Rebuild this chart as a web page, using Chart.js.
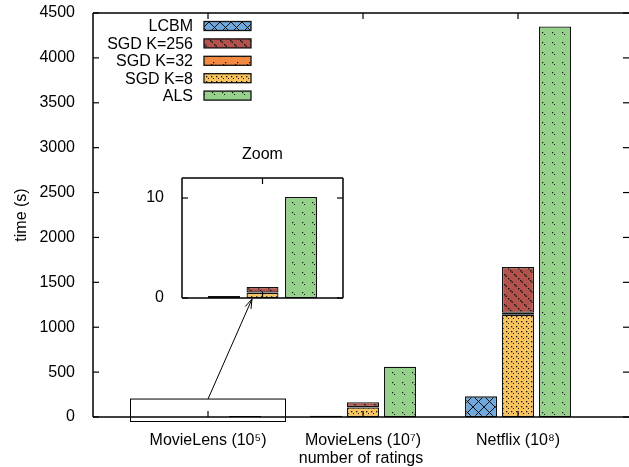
<!DOCTYPE html>
<html>
<head>
<meta charset="utf-8">
<script src="https://cdn.jsdelivr.net/npm/chart.js@4"></script>
<style>
  html, body { margin: 0; padding: 0; background: #fff; overflow: hidden; }
  #wrap { position: relative; width: 629px; height: 467px; }
  #main { position: absolute; left: 0; top: 0; }
  #zoom { position: absolute; left: 140px; top: 140px; }
</style>
</head>
<body>
<div id="wrap">
  <canvas id="main" width="629" height="467"></canvas>
  <canvas id="zoom" width="210" height="172"></canvas>
</div>
<script>
/* data (seconds) */
const categories = ['MovieLens (10⁵)', 'MovieLens (10⁷)', 'Netflix (10⁸)'];
const lcbm    = [0.2, 15, 230];
const sgdK8   = [0.5, 105, 1140];
const sgdK32  = [0.55, 112, 1160];
const sgdK256 = [1.1, 165, 1670];
const als     = [10.1, 560, 4350];

const FONT = { family: '"Liberation Sans", Arial, Helvetica, sans-serif', size: 16 };

/* fill patterns like the gnuplot ones */
function pattern(bg, size, draw) {
  const c = document.createElement('canvas');
  c.width = c.height = size;
  const g = c.getContext('2d');
  g.fillStyle = bg;
  g.fillRect(0, 0, size, size);
  g.strokeStyle = '#111';
  g.fillStyle = '#111';
  g.lineWidth = 1;
  draw(g, size);
  return g.createPattern(c, 'repeat');
}

const fills = {
  lcbm: pattern('#6fa8dc', 11, (g, s) => {
    g.beginPath();
    g.moveTo(0, 0); g.lineTo(s, s);
    g.moveTo(0, s); g.lineTo(s, 0);
    g.stroke();
  }),
  k256: pattern('#b4534b', 10, (g) => {
    g.fillRect(0, 0, 1.4, 1.4); g.fillRect(1.5, 1.5, 1.4, 1.4);
    g.fillRect(4, 4, 1.4, 1.4); g.fillRect(5.5, 5.5, 1.4, 1.4); g.fillRect(8, 8, 1.4, 1.4);
  }),
  k32: pattern('#f28a43', 12, (g) => {
    g.fillRect(9, 2, 1.2, 1.2); g.fillRect(7, 4, 1.2, 1.2); g.fillRect(3, 8, 1.2, 1.2);
  }),
  k8: pattern('#f9c45c', 5, (g) => {
    g.fillRect(1, 1, 1.3, 1.3); g.fillRect(3, 3, 1, 1);
  }),
  als: pattern('#95d18a', 10, (g) => {
    g.fillRect(2, 2, 1.2, 1.2); g.fillRect(4, 4, 1, 1);
  })
};

function makeDatasets(idx) {
  const pick = arr => idx.map(i => ({ x: i, y: arr[i] }));
  const diff = (a, b) => idx.map(i => ({ x: i, y: a[i] - b[i] }));
  const common = { borderColor: '#111', borderWidth: 1.3, borderSkipped: false };
  return [
    { label: 'LCBM', data: pick(lcbm), stack: 'lcbm', backgroundColor: fills.lcbm, ...common },
    { label: 'SGD K=8', data: pick(sgdK8), stack: 'sgd', backgroundColor: fills.k8, ...common },
    { label: 'SGD K=32', data: diff(sgdK32, sgdK8), stack: 'sgd', backgroundColor: fills.k32, ...common },
    { label: 'SGD K=256', data: diff(sgdK256, sgdK32), stack: 'sgd', backgroundColor: fills.k256, ...common },
    { label: 'ALS', data: pick(als), stack: 'als', backgroundColor: fills.als, ...common }
  ];
}

function line(ctx, x1, y1, x2, y2) {
  ctx.beginPath(); ctx.moveTo(x1, y1); ctx.lineTo(x2, y2); ctx.stroke();
}

// keep label overhang from shrinking the plot area
function noPad(s) {
  s.paddingTop = 0; s.paddingBottom = 0; s.paddingLeft = 0; s.paddingRight = 0;
}

/* frame + inward ticks, gnuplot style */
function drawFrame(chart, drawRight) {
  const { ctx, chartArea: a, scales } = chart;
  ctx.save();
  ctx.strokeStyle = '#000';
  ctx.lineWidth = 1.5;
  line(ctx, a.left, a.top, a.right, a.top);
  line(ctx, a.left, a.bottom, a.right, a.bottom);
  line(ctx, a.left, a.top, a.left, a.bottom);
  if (drawRight) line(ctx, a.right, a.top, a.right, a.bottom);
  ctx.lineWidth = 1.2;
  scales.y.ticks.forEach(t => {
    const y = scales.y.getPixelForValue(t.value);
    line(ctx, a.left, y, a.left + 6, y);
    line(ctx, a.right, y, a.right - 6, y);
  });
  scales.x.ticks.forEach(t => {
    const x = scales.x.getPixelForValue(t.value);
    line(ctx, x, a.bottom, x, a.bottom - 6);
    line(ctx, x, a.top, x, a.top + 6);
  });
  ctx.restore();
}

const legendOrder = [0, 3, 2, 1, 4];

const mainPlugin = {
  id: 'mainDecor',
  afterDatasetsDraw(chart) {
    const { ctx, scales } = chart;
    drawFrame(chart, false);

    // legend
    ctx.save();
    ctx.font = `${FONT.size}px ${FONT.family}`;
    ctx.textAlign = 'right';
    ctx.textBaseline = 'middle';
    ctx.fillStyle = '#000';
    legendOrder.forEach((di, row) => {
      const ds = chart.data.datasets[di];
      const y = 26 + row * 17.4;
      ctx.fillText(ds.label, 193, y + 1);
      ctx.fillStyle = ds.backgroundColor;
      ctx.fillRect(204, y - 4.5, 47, 9);
      ctx.strokeStyle = '#111';
      ctx.lineWidth = 1.3;
      ctx.strokeRect(204, y - 4.5, 47, 9);
      ctx.fillStyle = '#000';
    });

    // zoom box and arrow
    const x0 = scales.x.getPixelForValue(-0.5), x1 = scales.x.getPixelForValue(0.5);
    const y0 = scales.y.getPixelForValue(200), y1 = scales.y.getPixelForValue(-50);
    ctx.strokeStyle = '#000';
    ctx.lineWidth = 1;
    ctx.strokeRect(x0, y0, x1 - x0, y1 - y0);
    const sx = scales.x.getPixelForValue(0), sy = y0;
    const ex = 252, ey = 299;
    line(ctx, sx, sy, ex, ey);
    const ang = Math.atan2(ey - sy, ex - sx);
    const L = 10, w = Math.PI / 10;
    line(ctx, ex, ey, ex - L * Math.cos(ang - w), ey - L * Math.sin(ang - w));
    line(ctx, ex, ey, ex - L * Math.cos(ang + w), ey - L * Math.sin(ang + w));
    ctx.restore();
  }
};

new Chart(document.getElementById('main'), {
  type: 'bar',
  data: { datasets: makeDatasets([0, 1, 2]) },
  options: {
    responsive: false,
    animation: false,
    devicePixelRatio: 1,
    categoryPercentage: 0.716,
    barPercentage: 0.865,
    layout: { padding: { top: 13, right: 0, left: 0, bottom: 0 } },
    plugins: { legend: { display: false }, tooltip: { enabled: false } },
    scales: {
      x: {
        type: 'linear',
        min: -0.742,
        max: 2.716,
        offset: false,
        grid: { display: false },
        border: { display: false },
        ticks: {
          stepSize: 1,
          includeBounds: false,
          autoSkip: false,
          maxRotation: 0,
          padding: 6,
          color: '#000',
          font: FONT,
          callback: v => Number.isInteger(v) ? categories[v] : ''
        },
        title: { display: true, text: 'number of ratings', color: '#000', font: { ...FONT, lineHeight: 1 }, padding: { top: 0, bottom: 0 } },
        afterFit: s => { s.height = 50; noPad(s); }
      },
      y: {
        stacked: true,
        min: 0,
        max: 4500,
        grid: { display: false },
        border: { display: false },
        ticks: { stepSize: 500, padding: 10, color: '#000', font: FONT, callback: v => String(v) },
        title: { display: true, text: 'time (s)', color: '#000', font: FONT, padding: { top: 12 } },
        afterFit: s => { s.width = 93; noPad(s); }
      }
    }
  },
  plugins: [mainPlugin]
});

/* inset: first dataset only */
const zoomPlugin = {
  id: 'zoomDecor',
  afterDatasetsDraw(chart) {
    const { ctx, chartArea: a } = chart;
    drawFrame(chart, true);
    ctx.save();
    ctx.font = `${FONT.size}px ${FONT.family}`;
    ctx.fillStyle = '#000';
    ctx.textAlign = 'center';
    ctx.textBaseline = 'middle';
    ctx.fillText('Zoom', (a.left + a.right) / 2, 15);
    ctx.restore();
  }
};

new Chart(document.getElementById('zoom'), {
  type: 'bar',
  data: { datasets: makeDatasets([0]) },
  options: {
    responsive: false,
    animation: false,
    devicePixelRatio: 1,
    categoryPercentage: 0.717,
    barPercentage: 0.831,
    layout: { padding: { top: 38, right: 7, left: 0, bottom: 0 } },
    plugins: { legend: { display: false }, tooltip: { enabled: false } },
    scales: {
      x: {
        type: 'linear',
        min: -0.52,
        max: 0.52,
        offset: false,
        grid: { display: false },
        border: { display: false },
        ticks: { display: false, stepSize: 1, includeBounds: false },
        afterFit: s => { s.height = 14; noPad(s); }
      },
      y: {
        stacked: true,
        min: 0,
        max: 12,
        grid: { display: false },
        border: { display: false },
        ticks: { stepSize: 10, includeBounds: false, padding: 10, color: '#000', font: FONT },
        afterFit: s => { s.width = 42; noPad(s); }
      }
    }
  },
  plugins: [zoomPlugin]
});
</script>
</body>
</html>
